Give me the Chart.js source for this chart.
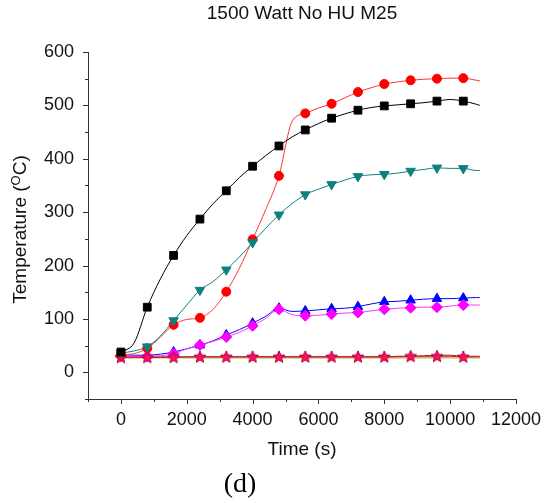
<!DOCTYPE html>
<html>
<head>
<meta charset="utf-8">
<script src="https://cdn.jsdelivr.net/npm/chart.js@4.4.0/dist/chart.umd.min.js"></script>
<style>
body { margin: 0; background: #fff; }
#wrap { position: relative; width: 551px; height: 503px; }
#lbl { position: absolute; left: 190px; top: 469px; width: 100px; text-align: center;
  font: 28px "Liberation Serif", "Times New Roman", serif; line-height: 28px; color: #000; }
</style>
</head>
<body>
<div id="wrap">
  <canvas id="chart" width="551" height="503"></canvas>
  <div id="lbl">(d)</div>
</div>
<script>
// time (s), markers every 800 s
const time = [0,400,800,1200,1600,2000,2400,2800,3200,3600,4000,4400,4800,5200,5600,6000,
  6400,6800,7200,7600,8000,8400,8800,9200,9600,10000,10400,10800,10900];

const black = [38,55,122,175,219,256,287,316,340,365,386,406,424,441,454,466,
  476,484,491,496,499,501,503,505,508,511,508,502,500];
const red = [33,35,45,66,89,99,102,118,151,195,249,305,368,470,485,495,
  503,514,525,533,540,544,547,549,550,551,551,547,546];
const teal = [36,40,48,68,97,126,154,170,192,216,243,270,295,316,333,343,
  352,360,367,370,371,373,377,380,383,382,382,378,378];
const blue = [33,32,32,34,38,44,51,59,70,80,92,105,120,114,115,117,
  119,120,123,128,132,133,135,137,138,138,139,140,140];
const magenta = [30,30,30,31,35,44,51,58,66,75,87,101,118,108,106,107,
  109,111,112,115,118,120,121,122,122,124,126,126,126];
const stars = [28,28,28,28,28,29,29,29,29,29,29,29,29,29,29,29,
  29,29,29,29,29,29,30,30,30,30,29,29,29];
const brown = [29,29,29,29,29,29,29,29,29,29,29,29,29,29,29,29,
  29,29,29,29,29,30,30,31,32,32,30,30,30];
const olive = [27,27,27,27,27,27,27,27,27,27,27,27,27,27,27,27,
  27,27,27,27,27,27,27,27,27,27,27,27,27];

const xTicks = [0,2000,4000,6000,8000,10000,12000];
const yTicks = [0,100,200,300,400,500,600];

const family = '"Liberation Sans", Arial, sans-serif';

function starImg() {
  const c = document.createElement('canvas');
  c.width = 14; c.height = 14;
  const g = c.getContext('2d');
  g.beginPath();
  for (let i = 0; i < 10; i++) {
    const r = i % 2 ? 2.8 : 6.3;
    const a = -Math.PI / 2 + i * Math.PI / 5;
    const px = 7 + r * Math.cos(a), py = 7.3 + r * Math.sin(a);
    if (i) g.lineTo(px, py); else g.moveTo(px, py);
  }
  g.closePath();
  g.fillStyle = '#ff0d6e';
  g.fill();
  g.strokeStyle = '#b0002e';
  g.lineWidth = 1;
  g.stroke();
  return c;
}

const isMark = ctx => time[ctx.dataIndex] % 800 === 0 && time[ctx.dataIndex] <= 10400;

function series(label, vals, line, fill, style, r, rot) {
  return {
    label: label,
    data: vals.map((v, i) => ({x: time[i], y: v})),
    borderColor: line,
    backgroundColor: fill,
    pointBackgroundColor: fill,
    pointBorderColor: fill,
    borderWidth: 1,
    pointBorderWidth: 1,
    pointStyle: style,
    pointRotation: rot || 0,
    pointRadius: ctx => (style && isMark(ctx)) ? r : 0,
    pointHoverRadius: 0,
    cubicInterpolationMode: 'monotone',
    fill: false
  };
}

// origin-style ticks: long on labelled values, short in between
const tickMarks = {
  id: 'tickMarks',
  afterDraw(chart) {
    const {ctx, chartArea: a, scales: {x, y}} = chart;
    ctx.save();
    ctx.strokeStyle = '#333';
    ctx.lineWidth = 1;
    ctx.beginPath();
    x.ticks.forEach(t => {
      const px = Math.round(x.getPixelForValue(t.value)) + 0.5;
      const len = t.value % 2000 === 0 ? 5 : 3;
      ctx.moveTo(px, a.bottom);
      ctx.lineTo(px, a.bottom + len);
    });
    y.ticks.forEach(t => {
      const py = Math.round(y.getPixelForValue(t.value)) + 0.5;
      const len = t.value % 100 === 0 ? 5 : 3;
      ctx.moveTo(a.left, py);
      ctx.lineTo(a.left - len, py);
    });
    ctx.stroke();
    ctx.restore();
  }
};

// y title with a superscript O
const yTitle = {
  id: 'yTitle',
  afterDraw(chart) {
    const {ctx, chartArea: a} = chart;
    const big = '19px ' + family, small = '13px ' + family;
    ctx.save();
    ctx.translate(21, (a.top + a.bottom) / 2 + 4);
    ctx.rotate(-Math.PI / 2);
    ctx.fillStyle = '#111';
    ctx.textBaseline = 'middle';
    ctx.textAlign = 'left';
    ctx.font = big;
    const w1 = ctx.measureText('Temperature (').width;
    const w3 = ctx.measureText('C)').width;
    ctx.font = small;
    const w2 = ctx.measureText('O').width;
    const x0 = -(w1 + w2 + w3) / 2;
    ctx.font = big;
    ctx.fillText('Temperature (', x0, 0);
    ctx.font = small;
    ctx.fillText('O', x0 + w1, -5);
    ctx.font = big;
    ctx.fillText('C)', x0 + w1 + w2, 0);
    ctx.restore();
  }
};

const tickFont = {family: family, size: 18};

const chart = new Chart(document.getElementById('chart'), {
  type: 'line',
  data: {
    datasets: [
      series('T1', black, '#000000', '#000000', 'rect', 5.5),
      series('T3', teal, '#0e8080', '#0e8080', 'triangle', 5.5, 180),
      series('T2', red, '#ff3333', '#ff0000', 'circle', 4.5),
      series('T6', stars, '#cc1040', '#ff0d6e', starImg(), 5),
      series('T5', magenta, '#ff33ff', '#ff00ff', 'rectRot', 5.5),
      series('T4', blue, '#0000ff', '#0000ff', 'triangle', 5.5),
      series('T7', brown, '#8b2a2a', '#8b2a2a', false, 0),
      series('T8', olive, '#a8a000', '#a8a000', false, 0)
    ]
  },
  options: {
    responsive: false,
    animation: false,
    layout: {padding: {left: 0, right: 34, top: 0, bottom: 0}},
    plugins: {
      legend: {display: false},
      tooltip: {enabled: false},
      title: {
        display: true,
        fullSize: false,
        text: '1500 Watt No HU M25',
        color: '#111',
        font: {family: family, size: 19, weight: 'normal'},
        padding: {top: 2.6, bottom: 26.6}
      }
    },
    scales: {
      x: {
        type: 'linear',
        min: -1000,
        max: 12000,
        afterFit: s => { s.height = 104; },
        grid: {display: false, drawTicks: false},
        border: {display: true, color: '#333', width: 1},
        ticks: {
          stepSize: 1000,
          autoSkip: false,
          maxRotation: 0,
          padding: 10,
          color: '#111',
          font: tickFont,
          callback: v => xTicks.includes(v) ? String(v) : ''
        },
        title: {
          display: true,
          text: 'Time (s)',
          color: '#111',
          font: {family: family, size: 19},
          padding: {top: 0, bottom: 41.6}
        }
      },
      y: {
        min: -50,
        max: 600,
        afterFit: s => { s.width = 88; },
        grid: {display: false, drawTicks: false},
        border: {display: true, color: '#333', width: 1},
        ticks: {
          stepSize: 50,
          autoSkip: false,
          padding: 14,
          color: '#111',
          font: tickFont,
          callback: v => yTicks.includes(v) ? String(v) : ''
        }
      }
    }
  },
  plugins: [tickMarks, yTitle]
});
</script>
</body>
</html>
